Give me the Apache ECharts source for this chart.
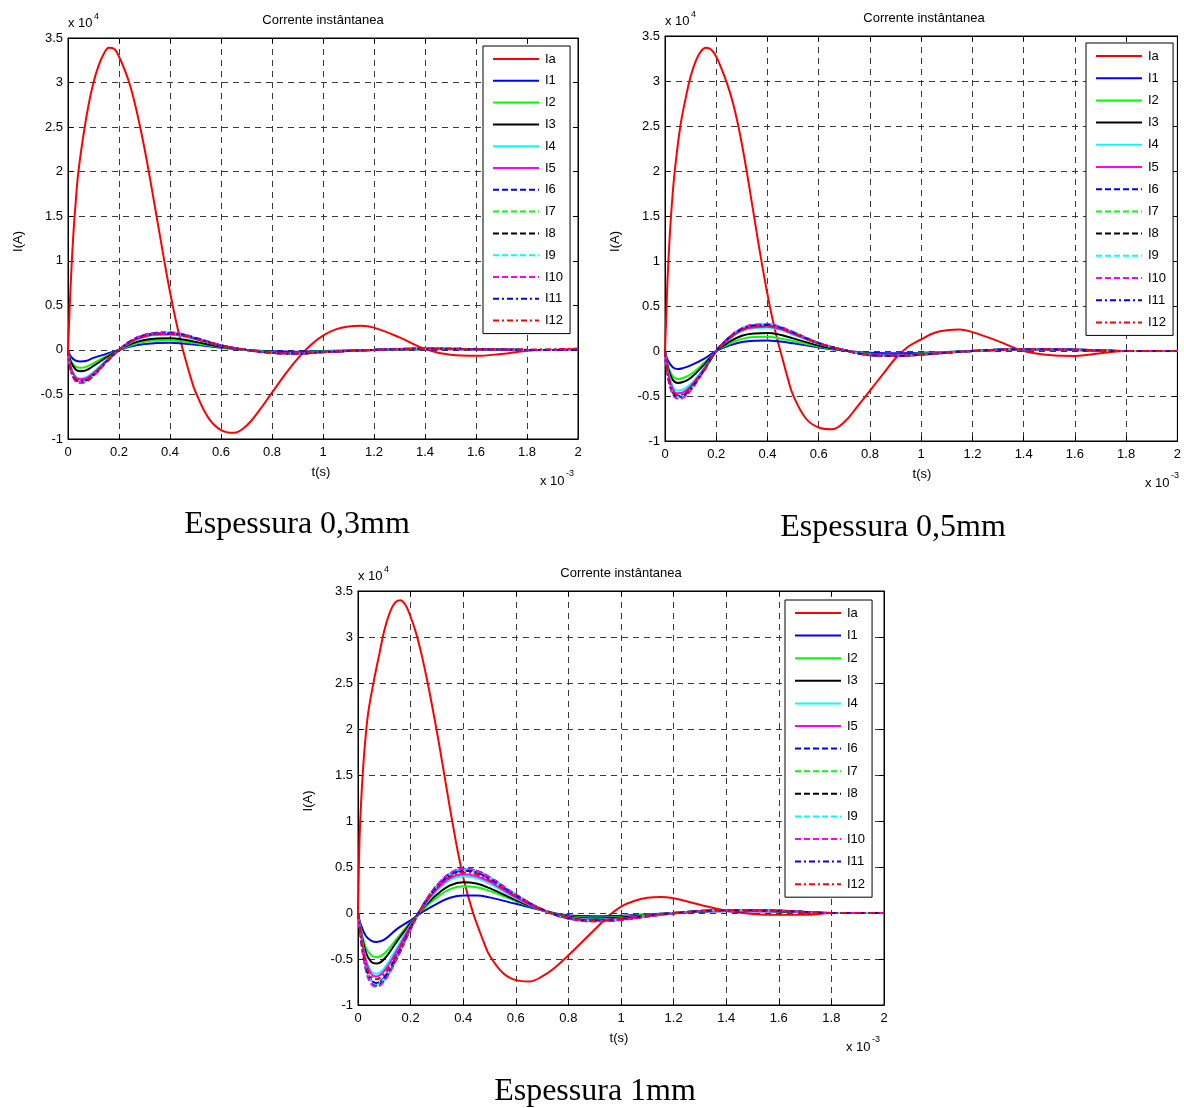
<!DOCTYPE html>
<html>
<head>
<meta charset="utf-8">
<script src="https://cdn.jsdelivr.net/npm/echarts@6/dist/echarts.min.js"></script>
<style>
html,body{margin:0;padding:0;background:#fff;}
#c{width:1184px;height:1108px;}
</style>
</head>
<body>
<div id="c"></div>
<script>
// ---- DATA (time in ms, i.e. x 10^-3 s; current in x 10^4 A) ----
const seriesNames = ['Ia','I1','I2','I3','I4','I5','I6','I7','I8','I9','I10','I11','I12'];
const captions = ['Espessura 0,3mm','Espessura 0,5mm','Espessura 1mm'];
const chartTitle = 'Corrente instântanea';
const xTicks = ['0','0.2','0.4','0.6','0.8','1','1.2','1.4','1.6','1.8','2'];
const yTicks = ['-1','-0.5','0','0.5','1','1.5','2','2.5','3','3.5'];

// time grid for the arrester current Ia
const tA = [0,0.005,0.01,0.02,0.03,0.04,0.06,0.08,0.1,0.12,0.14,0.16,0.18,0.2,0.22,0.24,0.26,0.28,0.3,0.32,0.34,0.36,0.38,0.4,0.42,0.44,0.46,0.48,0.5,0.55,0.6,0.65,0.7,0.75,0.8,0.85,0.9,0.95,1.0,1.05,1.1,1.15,1.2,1.3,1.4,1.5,1.6,1.7,1.8,1.9,2.0];
// time grid for the conductor currents I1..I12
const tS = [0,0.01,0.03,0.05,0.07,0.1,0.15,0.2,0.25,0.3,0.35,0.4,0.45,0.5,0.6,0.7,0.8,0.9,1.0,1.2,1.4,1.6,1.8,2.0];

// ---- Espessura 0,3mm ----
const Ia_03 = [0,0.35,0.7,1.25,1.65,1.98,2.4,2.74,3.0,3.19,3.32,3.39,3.38,3.29,3.16,3.0,2.79,2.54,2.26,1.95,1.62,1.29,0.96,0.65,0.37,0.12,-0.1,-0.3,-0.47,-0.76,-0.9,-0.93,-0.85,-0.68,-0.48,-0.28,-0.1,0.05,0.16,0.23,0.262,0.27,0.25,0.14,0.01,-0.055,-0.067,-0.045,-0.01,0.0,0.01];
const I1_03  = [0,-0.07,-0.12,-0.13,-0.125,-0.09,-0.045,0.0,0.04,0.065,0.078,0.08,0.072,0.058,0.025,0.0,-0.015,-0.02,-0.012,0.0,0.008,0.005,0.0,0.0];
const I2_03  = [0,-0.11,-0.19,-0.2,-0.19,-0.15,-0.07,0.0,0.055,0.09,0.104,0.105,0.095,0.075,0.03,0.0,-0.02,-0.025,-0.015,0.0,0.01,0.006,0.0,0.0];
const I3_03  = [0,-0.13,-0.22,-0.24,-0.23,-0.18,-0.085,0.0,0.07,0.11,0.128,0.13,0.117,0.09,0.035,0.0,-0.022,-0.028,-0.018,0.0,0.011,0.007,0.0,0.0];
const I4_03  = [0,-0.18,-0.3,-0.32,-0.31,-0.25,-0.12,0.0,0.09,0.145,0.168,0.17,0.153,0.12,0.045,0.0,-0.028,-0.035,-0.022,0.0,0.013,0.008,0.0,0.0];
const I5_03  = [0,-0.19,-0.31,-0.33,-0.32,-0.26,-0.125,0.0,0.095,0.15,0.173,0.175,0.158,0.123,0.047,0.0,-0.03,-0.037,-0.023,0.0,0.013,0.008,0.0,0.0];
const I6_03  = [0,-0.2,-0.33,-0.35,-0.34,-0.28,-0.13,0.0,0.1,0.158,0.182,0.185,0.167,0.13,0.05,0.0,-0.032,-0.04,-0.025,0.0,0.014,0.009,0.0,0.0];
const I7_03  = [0,-0.21,-0.34,-0.36,-0.35,-0.285,-0.135,0.0,0.105,0.163,0.187,0.19,0.171,0.133,0.051,0.0,-0.033,-0.04,-0.025,0.0,0.014,0.009,0.0,0.0];
const I8_03  = [0,-0.215,-0.345,-0.365,-0.355,-0.29,-0.138,0.0,0.108,0.167,0.192,0.195,0.175,0.136,0.052,0.0,-0.034,-0.042,-0.026,0.0,0.015,0.009,0.0,0.0];
const I9_03  = [0,-0.21,-0.34,-0.36,-0.35,-0.285,-0.135,0.0,0.105,0.163,0.187,0.19,0.171,0.133,0.051,0.0,-0.033,-0.04,-0.025,0.0,0.014,0.009,0.0,0.0];
const I10_03 = [0,-0.22,-0.35,-0.37,-0.36,-0.295,-0.14,0.0,0.108,0.167,0.192,0.195,0.176,0.137,0.052,0.0,-0.034,-0.042,-0.026,0.0,0.015,0.009,0.0,0.0];
const I11_03 = [0,-0.205,-0.335,-0.355,-0.345,-0.283,-0.133,0.0,0.103,0.161,0.185,0.188,0.169,0.131,0.05,0.0,-0.033,-0.04,-0.025,0.0,0.014,0.009,0.0,0.0];
const I12_03 = [0,-0.2,-0.325,-0.345,-0.335,-0.275,-0.128,0.0,0.098,0.154,0.177,0.18,0.162,0.126,0.048,0.0,-0.031,-0.038,-0.024,0.0,0.013,0.008,0.005,0.015];

// ---- Espessura 0,5mm ----
const Ia_05 = [0,0.4,0.8,1.35,1.75,2.05,2.5,2.8,3.05,3.22,3.33,3.37,3.35,3.27,3.14,2.99,2.81,2.58,2.3,1.98,1.63,1.28,0.94,0.63,0.35,0.11,-0.1,-0.31,-0.49,-0.75,-0.85,-0.87,-0.79,-0.62,-0.44,-0.26,-0.08,0.05,0.13,0.2,0.23,0.24,0.21,0.11,0.0,-0.045,-0.055,-0.025,0.0,0.0,0.0];
const I1_05  = [0,-0.1,-0.18,-0.2,-0.19,-0.16,-0.09,0.0,0.06,0.1,0.115,0.117,0.105,0.085,0.04,0.005,-0.02,-0.025,-0.02,0.0,0.015,0.01,0.0,0.0];
const I2_05  = [0,-0.15,-0.28,-0.31,-0.3,-0.26,-0.14,0.0,0.08,0.135,0.155,0.157,0.14,0.11,0.05,0.005,-0.03,-0.035,-0.025,0.0,0.018,0.012,0.0,0.0];
const I3_05  = [0,-0.17,-0.32,-0.355,-0.345,-0.3,-0.16,0.0,0.1,0.17,0.195,0.2,0.18,0.14,0.06,0.005,-0.035,-0.04,-0.03,0.0,0.02,0.012,0.0,0.0];
const I4_05  = [0,-0.2,-0.39,-0.44,-0.43,-0.37,-0.2,0.0,0.13,0.22,0.255,0.26,0.235,0.18,0.08,0.01,-0.04,-0.05,-0.035,0.0,0.02,0.015,0.0,0.0];
const I5_05  = [0,-0.22,-0.42,-0.47,-0.46,-0.39,-0.21,0.0,0.135,0.23,0.265,0.27,0.245,0.19,0.083,0.01,-0.042,-0.052,-0.037,0.0,0.02,0.015,0.0,0.0];
const I6_05  = [0,-0.24,-0.45,-0.5,-0.49,-0.41,-0.22,0.0,0.145,0.24,0.28,0.285,0.258,0.2,0.087,0.01,-0.044,-0.054,-0.039,0.0,0.02,0.015,0.0,0.0];
const I7_05  = [0,-0.25,-0.46,-0.51,-0.5,-0.42,-0.22,0.0,0.148,0.245,0.285,0.29,0.262,0.205,0.088,0.01,-0.045,-0.055,-0.04,0.0,0.02,0.015,0.0,0.0];
const I8_05  = [0,-0.26,-0.47,-0.52,-0.51,-0.43,-0.23,0.0,0.15,0.25,0.29,0.295,0.266,0.21,0.09,0.01,-0.046,-0.056,-0.04,0.0,0.02,0.015,0.0,0.0];
const I9_05  = [0,-0.255,-0.465,-0.515,-0.505,-0.425,-0.225,0.0,0.15,0.25,0.29,0.298,0.268,0.21,0.09,0.01,-0.046,-0.056,-0.04,0.0,0.02,0.015,0.0,0.0];
const I10_05 = [0,-0.26,-0.48,-0.53,-0.52,-0.44,-0.23,0.0,0.152,0.252,0.292,0.297,0.268,0.21,0.09,0.01,-0.047,-0.057,-0.041,0.0,0.02,0.015,0.0,0.0];
const I11_05 = [0,-0.25,-0.46,-0.51,-0.5,-0.42,-0.22,0.0,0.147,0.244,0.283,0.288,0.26,0.204,0.087,0.01,-0.045,-0.055,-0.04,0.0,0.02,0.015,0.0,0.0];
const I12_05 = [0,-0.24,-0.44,-0.49,-0.48,-0.4,-0.215,0.0,0.142,0.235,0.273,0.278,0.252,0.197,0.085,0.01,-0.043,-0.053,-0.038,0.0,0.02,0.015,0.0,0.0];

// ---- Espessura 1mm ----
const Ia_1 = [0,0.7,1.1,1.6,1.95,2.2,2.52,2.8,3.07,3.26,3.37,3.4,3.35,3.22,3.05,2.83,2.57,2.28,1.97,1.64,1.3,0.97,0.66,0.39,0.17,-0.02,-0.18,-0.33,-0.46,-0.65,-0.73,-0.745,-0.69,-0.59,-0.46,-0.32,-0.18,-0.04,0.07,0.13,0.165,0.175,0.16,0.09,0.025,-0.01,-0.02,-0.02,0.0,0.0,0.0];
const I1_1  = [0,-0.12,-0.25,-0.3,-0.315,-0.29,-0.17,-0.08,0.02,0.1,0.165,0.19,0.19,0.17,0.1,0.03,-0.025,-0.035,-0.03,0.0,0.02,0.015,0.0,0.0];
const I2_1  = [0,-0.16,-0.38,-0.46,-0.48,-0.44,-0.27,-0.1,0.05,0.17,0.26,0.29,0.28,0.24,0.13,0.03,-0.035,-0.05,-0.04,0.0,0.025,0.02,0.0,0.0];
const I3_1  = [0,-0.18,-0.43,-0.53,-0.55,-0.5,-0.3,-0.11,0.06,0.2,0.3,0.335,0.32,0.27,0.14,0.03,-0.04,-0.06,-0.05,0.0,0.028,0.02,0.0,0.0];
const I4_1  = [0,-0.2,-0.5,-0.63,-0.66,-0.6,-0.37,-0.13,0.07,0.24,0.36,0.4,0.38,0.32,0.16,0.03,-0.05,-0.07,-0.06,0.0,0.03,0.025,0.0,0.0];
const I5_1  = [0,-0.21,-0.52,-0.66,-0.69,-0.63,-0.4,-0.14,0.08,0.26,0.38,0.42,0.4,0.34,0.17,0.03,-0.05,-0.075,-0.06,0.0,0.03,0.025,0.0,0.0];
const I6_1  = [0,-0.24,-0.58,-0.73,-0.76,-0.7,-0.45,-0.16,0.09,0.28,0.41,0.46,0.44,0.37,0.19,0.04,-0.055,-0.08,-0.065,0.0,0.03,0.025,0.0,0.0];
const I7_1  = [0,-0.25,-0.6,-0.75,-0.78,-0.72,-0.47,-0.17,0.09,0.29,0.42,0.47,0.45,0.38,0.2,0.04,-0.06,-0.085,-0.07,0.0,0.03,0.025,0.0,0.0];
const I8_1  = [0,-0.26,-0.61,-0.76,-0.79,-0.73,-0.48,-0.17,0.1,0.3,0.43,0.48,0.46,0.39,0.2,0.04,-0.06,-0.09,-0.075,-0.005,0.03,0.025,0.0,0.0];
const I9_1  = [0,-0.25,-0.6,-0.74,-0.77,-0.71,-0.46,-0.17,0.09,0.29,0.42,0.475,0.455,0.385,0.2,0.04,-0.06,-0.085,-0.07,0.0,0.03,0.025,0.0,0.0];
const I10_1 = [0,-0.27,-0.62,-0.77,-0.8,-0.74,-0.48,-0.18,0.1,0.3,0.43,0.48,0.46,0.39,0.2,0.04,-0.06,-0.09,-0.075,-0.005,0.03,0.025,0.0,0.0];
const I11_1 = [0,-0.24,-0.58,-0.73,-0.76,-0.7,-0.45,-0.16,0.09,0.28,0.41,0.46,0.44,0.37,0.19,0.04,-0.055,-0.08,-0.065,0.0,0.03,0.025,0.0,0.0];
const I12_1 = [0,-0.23,-0.55,-0.69,-0.72,-0.66,-0.43,-0.15,0.085,0.27,0.39,0.44,0.42,0.355,0.18,0.035,-0.05,-0.08,-0.065,0.0,0.03,0.025,0.0,0.0];

const panels = [
  {ia: Ia_03, small: [I1_03,I2_03,I3_03,I4_03,I5_03,I6_03,I7_03,I8_03,I9_03,I10_03,I11_03,I12_03]},
  {ia: Ia_05, small: [I1_05,I2_05,I3_05,I4_05,I5_05,I6_05,I7_05,I8_05,I9_05,I10_05,I11_05,I12_05]},
  {ia: Ia_1,  small: [I1_1,I2_1,I3_1,I4_1,I5_1,I6_1,I7_1,I8_1,I9_1,I10_1,I11_1,I12_1]}
];

// ---- STYLE / LAYOUT ----
const styles = [
  {c:'#ff0000', t:'solid'},
  {c:'#0000ff', t:'solid'},
  {c:'#00ff00', t:'solid'},
  {c:'#000000', t:'solid'},
  {c:'#00ffff', t:'solid'},
  {c:'#ff00ff', t:'solid'},
  {c:'#0000ff', t:[6,3]},
  {c:'#00ff00', t:[6,3]},
  {c:'#000000', t:[6,3]},
  {c:'#00ffff', t:[6,3]},
  {c:'#ff00ff', t:[6,3]},
  {c:'#0000ff', t:[6,3,2,3]},
  {c:'#ff0000', t:[6,3,2,3]}
];
const geo = [
  {left:68, top:38, width:510, height:401, leg:{left:483, top:46, gap:7.8}, cap:{x:297, y:525}},
  {left:665, top:36, width:518, height:405, leg:{left:1086, top:43, gap:8.2}, cap:{x:893, y:528}},
  {left:358, top:591, width:526, height:414, leg:{left:785, top:600, gap:8.6}, cap:{x:595, y:1092}}
];
const FONT = 'Liberation Sans, Arial, sans-serif';

const grid = [], xAxis = [], yAxis = [], series = [], legend = [], graphic = [];
geo.forEach((g, p) => {
  grid.push({left:g.left, top:g.top, width:g.width, height:g.height, show:true, borderColor:'#000', borderWidth:1, backgroundColor:'#fff'});
  const splitLine = {show:true, lineStyle:{color:'#3a3a3a', type:[6,5], width:1}};
  xAxis.push({type:'value', gridIndex:p, min:0, max:2, interval:0.2,
    axisLine:{show:true, onZero:false, lineStyle:{color:'#000'}},
    axisTick:{show:true, inside:true, length:5, lineStyle:{color:'#000'}},
    axisLabel:{color:'#000', fontFamily:FONT, fontSize:13, margin:7,
      formatter: v => xTicks[Math.round(v/0.2)]},
    splitLine: splitLine});
  xAxis.push({type:'value', gridIndex:p, position:'top', min:0, max:2, interval:0.2,
    axisLine:{show:true, onZero:false, lineStyle:{color:'#000'}},
    axisTick:{show:true, inside:true, length:5, lineStyle:{color:'#000'}},
    axisLabel:{show:false}, splitLine:{show:false}});
  yAxis.push({type:'value', gridIndex:p, min:-1, max:3.5, interval:0.5,
    axisLine:{show:true, onZero:false, lineStyle:{color:'#000'}},
    axisTick:{show:true, inside:true, length:5, lineStyle:{color:'#000'}},
    axisLabel:{color:'#000', fontFamily:FONT, fontSize:13, margin:5,
      formatter: v => yTicks[Math.round((v+1)/0.5)]},
    splitLine: splitLine});
  yAxis.push({type:'value', gridIndex:p, position:'right', min:-1, max:3.5, interval:0.5,
    axisLine:{show:true, onZero:false, lineStyle:{color:'#000'}},
    axisTick:{show:true, inside:true, length:5, lineStyle:{color:'#000'}},
    axisLabel:{show:false}, splitLine:{show:false}});

  const all = [panels[p].ia].concat(panels[p].small);
  all.forEach((vals, k) => {
    const tt = k === 0 ? tA : tS;
    series.push({
      name: seriesNames[k], type:'line', xAxisIndex:2*p, yAxisIndex:2*p,
      data: tt.map((x, i) => [x, vals[i]]),
      symbol:'none', smooth:0.4, animation:false,
      lineStyle:{color:styles[k].c, type:styles[k].t, width:2},
      itemStyle:{color:styles[k].c}
    });
  });

  legend.push({
    orient:'vertical', left:g.leg.left, top:g.leg.top, data:seriesNames,
    backgroundColor:'#fff', borderColor:'#000', borderWidth:1,
    padding:[6,7,6,9], itemGap:g.leg.gap, itemWidth:46, itemHeight:14,
    itemStyle:{color:'rgba(0,0,0,0)', borderColor:'rgba(0,0,0,0)', borderWidth:0, opacity:0},
    textStyle:{color:'#000', fontFamily:FONT, fontSize:13, lineHeight:14, padding:[0,0,0,1]},
    selectedMode:false, z:20
  });

  const cx = g.left + g.width/2;
  const bottom = g.top + g.height;
  const right = g.left + g.width;
  // title
  graphic.push({type:'text', x:cx, y:g.top-18, style:{text:chartTitle, fill:'#000', font:'13px '+FONT, textAlign:'center', textVerticalAlign:'middle'}});
  // x 10^4
  graphic.push({type:'text', x:g.left, y:g.top-15, style:{text:'x 10', fill:'#000', font:'13px '+FONT, textAlign:'left', textVerticalAlign:'middle'}});
  graphic.push({type:'text', x:g.left+26, y:g.top-21, style:{text:'4', fill:'#000', font:'9px '+FONT, textAlign:'left', textVerticalAlign:'middle'}});
  // t(s)
  graphic.push({type:'text', x:cx-2, y:bottom+33, style:{text:'t(s)', fill:'#000', font:'13px '+FONT, textAlign:'center', textVerticalAlign:'middle'}});
  // x 10^-3
  graphic.push({type:'text', x:right-38, y:bottom+42, style:{text:'x 10', fill:'#000', font:'13px '+FONT, textAlign:'left', textVerticalAlign:'middle'}});
  graphic.push({type:'text', x:right-12, y:bottom+35, style:{text:'-3', fill:'#000', font:'9px '+FONT, textAlign:'left', textVerticalAlign:'middle'}});
  // I(A)
  graphic.push({type:'text', x:g.left-50, y:g.top+g.height/2+3, rotation:Math.PI/2, style:{text:'I(A)', fill:'#000', font:'13px '+FONT, textAlign:'center', textVerticalAlign:'middle'}});
  // caption
  graphic.push({type:'text', x:g.cap.x, y:g.cap.y, style:{text:captions[p], fill:'#000', font:'32px Liberation Serif, Times New Roman, serif', textAlign:'center', textVerticalAlign:'middle'}});
});

const chart = echarts.init(document.getElementById('c'), null, {renderer:'canvas'});
chart.setOption({
  backgroundColor:'#fff',
  animation:false,
  grid, xAxis, yAxis, series, legend, graphic
});
</script>
</body>
</html>
